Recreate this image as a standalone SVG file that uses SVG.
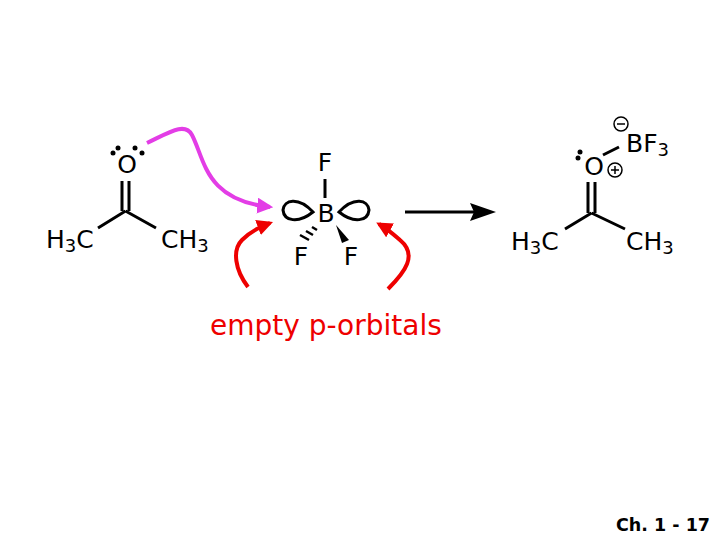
<svg xmlns="http://www.w3.org/2000/svg" width="720" height="540" viewBox="0 0 720 540">
<style>
.t{font-family:"DejaVu Sans",Verdana,sans-serif;font-size:25px;fill:#000}
.s{font-size:18px}
.b{stroke:#000;stroke-width:3;fill:none}
.r{stroke:#e00;stroke-width:4;fill:none}
</style>
<defs>
<marker id="ar" viewBox="0 0 10 10" refX="8" refY="5" markerWidth="4" markerHeight="4" orient="auto"><path d="M0,0L10,5L0,10z" fill="#e00"/></marker>
<marker id="am" viewBox="0 0 10 10" refX="8" refY="5" markerWidth="4" markerHeight="4" orient="auto"><path d="M0,0L10,5L0,10z" fill="#e33de6"/></marker>
</defs>
<rect width="720" height="540" fill="#fff"/>
<g id="acetone">
<text class="t" x="127" y="173" text-anchor="middle">O</text>
<circle cx="113" cy="153" r="2.5"/><circle cx="118" cy="148" r="2.5"/><circle cx="135" cy="148" r="2.5"/><circle cx="142" cy="153" r="2.5"/>
<path class="b" d="M122,181V211M129,181V211M125.5,211L98,228M125.5,211L156,228"/>
<text class="t" x="46" y="248">H<tspan class="s" dy="4">3</tspan><tspan dy="-4">C</tspan></text>
<text class="t" x="161" y="248">CH<tspan class="s" dy="4">3</tspan></text>
</g>
<g id="bf3">
<text class="t" x="325" y="171" text-anchor="middle">F</text>
<path class="b" d="M325,179V198"/>
<text class="t" x="326" y="222" text-anchor="middle">B</text>
<path class="b" d="M313,212C298,196 284,200 283,210C284,221 298,224 313,212Z"/>
<path class="b" d="M339,212C354,196 368,200 369,210C368,221 354,224 339,212Z"/>
<path stroke="#000" stroke-width="2.5" d="M317,230l-5,-3M313,235l-7,-4M309,240l-9,-5"/>
<path d="M336,225L349,240L342,243Z" fill="#000"/>
<text class="t" x="301" y="265" text-anchor="middle">F</text>
<text class="t" x="351" y="265" text-anchor="middle">F</text>
</g>
<g id="label">
<text x="210" y="335" font-family="DejaVu Sans,sans-serif" font-size="28" fill="#e00">empty p-orbitals</text>
</g>
<g id="product">
<circle cx="621" cy="124" r="7" fill="none" stroke="#000" stroke-width="1.5"/><path d="M617,124h8" stroke="#000" stroke-width="1.5"/>
<text class="t" x="626" y="152">BF<tspan class="s" dy="4">3</tspan></text>
<path class="b" d="M603,155L619,147"/>
<text class="t" x="594" y="175" text-anchor="middle">O</text>
<circle cx="578" cy="158" r="2.5"/><circle cx="580" cy="152" r="2.5"/>
<circle cx="615" cy="170" r="7" fill="none" stroke="#000" stroke-width="1.5"/><path d="M611,170h8M615,166v8" stroke="#000" stroke-width="1.5"/>
<path class="b" d="M588,182V213M595,182V213M591.5,213L565,229M591.5,213L625,229"/>
<text class="t" x="511" y="250">H<tspan class="s" dy="4">3</tspan><tspan dy="-4">C</tspan></text>
<text class="t" x="626" y="250">CH<tspan class="s" dy="4">3</tspan></text>
</g>
<g id="connectors">
<path d="M147,143C170,132 185,122 192,135C205,160 205,200 270,207" stroke="#e33de6" stroke-width="4" fill="none" marker-end="url(#am)"/>
<path class="r" d="M248,287C235,270 232,250 242,240C252,230 262,226 270,223" marker-end="url(#ar)"/>
<path class="r" d="M388,289C405,272 418,255 400,240C392,233 386,228 379,224" marker-end="url(#ar)"/>
<path d="M405,212H478" stroke="#000" stroke-width="3"/><path d="M496,212L470,203L474,212L470,221Z" fill="#000"/>
</g>
<text x="616" y="531" font-family="DejaVu Sans,sans-serif" font-weight="bold" font-size="17.5">Ch. 1 - 17</text>
</svg>
